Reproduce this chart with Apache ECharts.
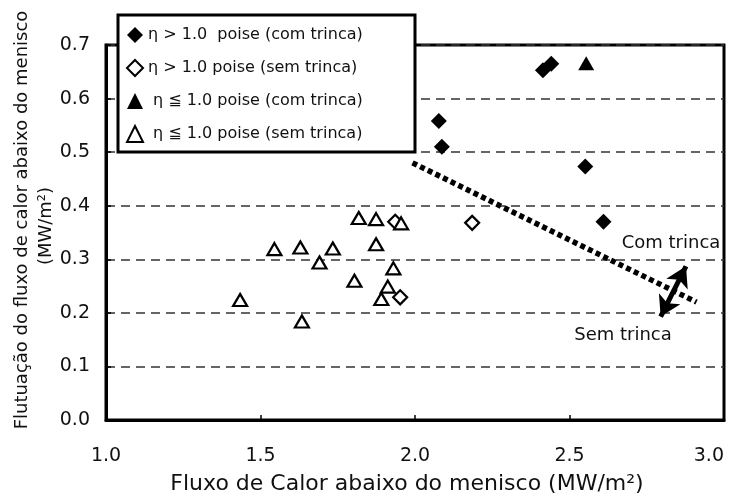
<!DOCTYPE html>
<html>
<head>
<meta charset="utf-8">
<script src="https://cdn.jsdelivr.net/npm/echarts@6/dist/echarts.min.js"></script>
<style>
  html, body { margin: 0; padding: 0; background: #fff; }
  #chart { width: 734px; height: 495px; }
</style>
</head>
<body>
<div id="chart"></div>
<script>
// Heat flux below the meniscus vs. its fluctuation, split by mold powder viscosity and cracking
const seriesNames = [
  'η > 1.0  poise (com trinca)',
  'η > 1.0 poise (sem trinca)',
  ' η ≦ 1.0 poise (com trinca)',
  ' η ≦ 1.0 poise (sem trinca)'
];
// [heat flux MW/m², fluctuation MW/m²]
const etaHighCracked = [[2.414, 0.653], [2.441, 0.665], [2.077, 0.558], [2.087, 0.510], [2.551, 0.473], [2.610, 0.370]];
const etaHighSound = [[1.936, 0.370], [2.185, 0.368], [1.952, 0.229]];
const etaLowCracked = [[2.554, 0.666]];
const etaLowSound = [
  [1.818, 0.377], [1.874, 0.375], [1.955, 0.367], [1.545, 0.319], [1.629, 0.322],
  [1.734, 0.320], [1.874, 0.328], [1.691, 0.294], [1.930, 0.283], [1.804, 0.260],
  [1.912, 0.249], [1.891, 0.226], [1.434, 0.224], [1.634, 0.184]
];
// dividing trend between cracked and sound conditions
const trendLine = [[1.992, 0.480], [2.911, 0.220]];
// double arrow pointing to the two regions
const crackArrow = [[2.795, 0.193], [2.877, 0.287]];

const xAxisTitle = 'Fluxo de Calor abaixo do menisco (MW/m²)';
const yAxisTitle = ['Flutuação do fluxo de calor abaixo do menisco', '(MW/m²)'];
const regionLabels = ['Com trinca', 'Sem trinca'];

const FONT = 'DejaVu Sans';
const chart = echarts.init(document.getElementById('chart'));

const filled = { color: '#000', borderColor: '#000', borderWidth: 0, opacity: 1 };
const hollow = { color: '#fff', borderColor: '#000', borderWidth: 2.2, opacity: 1 };

chart.setOption({
  animation: false,
  backgroundColor: '#fff',
  grid: {
    left: 106, right: 10, top: 45, bottom: 75,
    outerBoundsMode: 'none', containLabel: false,
    show: true, borderColor: '#000', borderWidth: 3, backgroundColor: 'transparent'
  },
  xAxis: {
    type: 'value', min: 1, max: 3, interval: 0.5,
    axisLine: { show: true, lineStyle: { color: '#000', width: 3 } },
    axisTick: { show: true, inside: true, length: 5, lineStyle: { color: '#000', width: 1.5 } },
    splitLine: { show: false },
    axisLabel: {
      margin: 27, color: '#111', fontSize: 19, fontFamily: FONT, alignMaxLabel: 'right',
      formatter: v => v.toFixed(1)
    },
    name: xAxisTitle, nameLocation: 'middle', nameGap: 53,
    nameTextStyle: { color: '#111', fontSize: 22, fontFamily: FONT, padding: [0, 16, 0, 0] }
  },
  yAxis: {
    type: 'value', min: 0, max: 0.7, interval: 0.1,
    axisLine: { show: true, lineStyle: { color: '#000', width: 3 } },
    axisTick: { show: true, inside: true, length: 5, lineStyle: { color: '#000', width: 1.5 } },
    splitLine: { show: true, lineStyle: { color: '#333', width: 1.6, type: [9, 6] } },
    axisLabel: { margin: 16, color: '#111', fontSize: 19, fontFamily: FONT, formatter: v => v.toFixed(1) }
  },
  legend: {
    orient: 'vertical', left: 126, top: 27, z: 20,
    itemWidth: 16, itemHeight: 16, itemGap: 16, itemTextGap: 10, padding: 0,
    textStyle: { color: '#111', fontSize: 16, fontFamily: FONT },
    data: seriesNames
  },
  graphic: [
    {
      type: 'rect', z: 9,
      shape: { x: 118, y: 15, width: 297, height: 137 },
      style: { fill: '#fff', stroke: '#000', lineWidth: 3 }
    },
    {
      type: 'text', x: 22, y: 220, rotation: Math.PI / 2,
      style: { text: yAxisTitle[0], font: '18px "DejaVu Sans"', fill: '#111', align: 'center', verticalAlign: 'middle', textAlign: 'center', textVerticalAlign: 'middle' }
    },
    {
      type: 'text', x: 46, y: 226, rotation: Math.PI / 2,
      style: { text: yAxisTitle[1], font: '18px "DejaVu Sans"', fill: '#111', align: 'center', verticalAlign: 'middle', textAlign: 'center', textVerticalAlign: 'middle' }
    },
    {
      type: 'text', x: 671, y: 243,
      style: { text: regionLabels[0], font: '18px "DejaVu Sans"', fill: '#111', align: 'center', verticalAlign: 'middle', textAlign: 'center', textVerticalAlign: 'middle' }
    },
    {
      type: 'text', x: 623, y: 335,
      style: { text: regionLabels[1], font: '18px "DejaVu Sans"', fill: '#111', align: 'center', verticalAlign: 'middle', textAlign: 'center', textVerticalAlign: 'middle' }
    }
  ],
  series: [
    {
      name: 'trend', type: 'line', data: trendLine, symbol: 'none', silent: true, z: 1,
      lineStyle: { color: '#000', width: 5.5, type: [5, 3.5], cap: 'butt' },
      markLine: {
        silent: true, symbol: ['arrow', 'arrow'], symbolSize: [18, 20],
        label: { show: false },
        lineStyle: { color: '#000', width: 5, type: 'solid' },
        data: [[{ coord: crackArrow[0] }, { coord: crackArrow[1] }]]
      }
    },
    { name: seriesNames[0], type: 'scatter', symbol: 'diamond', symbolSize: 16, itemStyle: filled, data: etaHighCracked, z: 3 },
    { name: seriesNames[1], type: 'scatter', symbol: 'diamond', symbolSize: 14, itemStyle: hollow, data: etaHighSound, z: 3 },
    { name: seriesNames[2], type: 'scatter', symbol: 'triangle', symbolSize: [16, 14], itemStyle: filled, data: etaLowCracked, z: 3 },
    { name: seriesNames[3], type: 'scatter', symbol: 'triangle', symbolSize: [14, 12], itemStyle: hollow, data: etaLowSound, z: 3 }
  ]
});
</script>
</body>
</html>
